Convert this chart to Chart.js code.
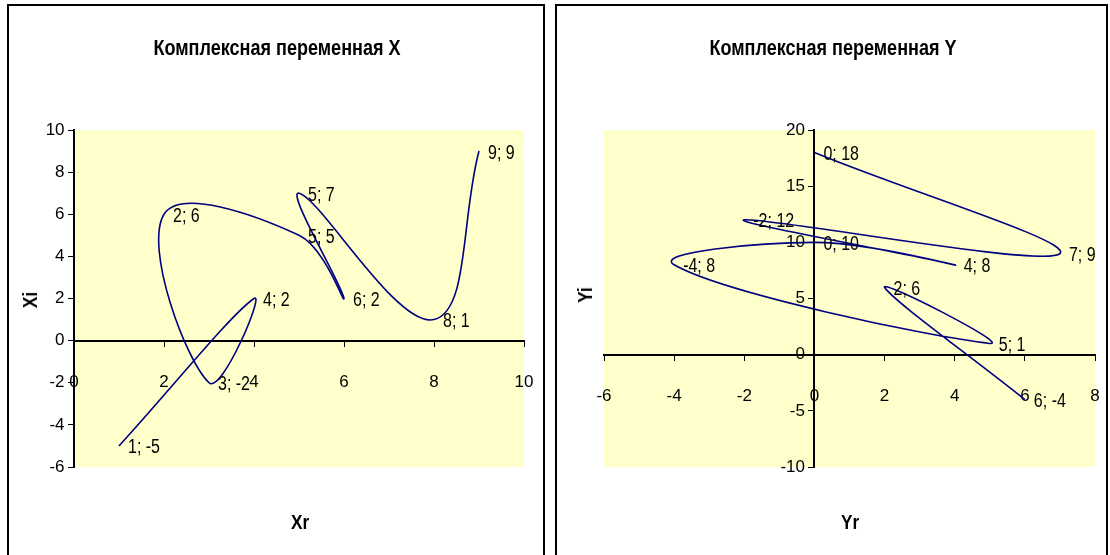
<!DOCTYPE html>
<html>
<head>
<meta charset="utf-8">
<script src="https://cdn.jsdelivr.net/npm/chart.js@4.4.1/dist/chart.umd.min.js"></script>
<style>
  html, body { margin: 0; padding: 0; background: #fff; width: 1110px; height: 555px; overflow: hidden; }
  .box { position: absolute; top: 4px; height: 600px; border: 2px solid #000; box-sizing: border-box; overflow: hidden; }
  .box canvas { position: absolute; left: 0; top: 0; }
  .txt { position: absolute; font-family: "Liberation Sans", Arial, sans-serif; color: #000; white-space: nowrap; }
  .title { font-weight: bold; font-size: 22px; transform: translate(-50%, -50%) scaleX(0.82); }
  .axt { font-weight: bold; font-size: 21px; transform: translate(-50%, -50%) scaleX(0.82); }
  .axt.rot { transform: translate(-50%, -50%) rotate(-90deg) scaleX(0.82); }
</style>
</head>
<body>
<div class="box" id="boxX" style="left:7px; width:538px;">
  <canvas id="chartX" width="555" height="549"></canvas>
  <div class="txt title" style="left:268px; top:42px;">Комплексная переменная X</div>
  <div class="txt axt" style="left:291px; top:516px;">Xr</div>
  <div class="txt axt rot" style="left:21px; top:294px;">Xi</div>
</div>
<div class="box" id="boxY" style="left:555px; width:553px;">
  <canvas id="chartY" width="578" height="549"></canvas>
  <div class="txt title" style="left:276px; top:42px;">Комплексная переменная Y</div>
  <div class="txt axt" style="left:293px; top:516px;">Yr</div>
  <div class="txt axt rot" style="left:28px; top:289px;">Yi</div>
</div>
<script>
// ---- данные: комплексная переменная X ----
const xReal = [1, 4, 3, 2, 5, 6, 5, 8, 9];
const xImag = [-5, 2, -2, 6, 5, 2, 7, 1, 9];
const xTicksX = [0, 2, 4, 6, 8, 10];
const xTicksY = [-6, -4, -2, 0, 2, 4, 6, 8, 10];

// ---- данные: комплексная переменная Y ----
const yReal = [0, 7, -2, 4, 0, -4, 5, 2, 6];
const yImag = [18, 9, 12, 8, 10, 8, 1, 6, -4];
const yTicksX = [-6, -4, -2, 0, 2, 4, 6, 8];
const yTicksY = [-10, -5, 0, 5, 10, 15, 20];

const FONT = '"Liberation Sans", Arial, sans-serif';

// жёлтый фон области построения
const plotBg = {
  id: "plotBg",
  beforeDraw(chart) {
    const { ctx, chartArea: a } = chart;
    ctx.save();
    ctx.fillStyle = "#FFFFCC";
    ctx.fillRect(a.left, a.top, a.right - a.left, a.bottom - a.top);
    ctx.restore();
  },
};

// подписи точек "x; y" (узкий шрифт - сжимаем Arial по горизонтали)
const pointLabels = {
  id: "pointLabels",
  afterDatasetsDraw(chart) {
    const { ctx, scales } = chart;
    chart.data.datasets[0].data.forEach((p) => {
      const px = scales.x.getPixelForValue(p.x);
      const py = scales.y.getPixelForValue(p.y);
      ctx.save();
      ctx.translate(px + 9, py + 2);
      ctx.scale(0.8, 1);
      ctx.font = "20px " + FONT;
      ctx.fillStyle = "#000";
      ctx.textAlign = "left";
      ctx.textBaseline = "middle";
      ctx.fillText(`${p.x}; ${p.y}`, 0, 0);
      ctx.restore();
    });
  },
};

function makeChart(id, re, im, tx, ty, pad) {
  const pts = re.map((v, i) => ({ x: v, y: im[i] }));
  const tickFont = { family: FONT, size: 17 };
  const axisCommon = {
    type: "linear",
    grid: { drawOnChartArea: false, drawTicks: true, tickLength: 5, color: "#000", lineWidth: 1 },
    border: { display: true, color: "#000", width: 2 },
  };
  new Chart(document.getElementById(id), {
    type: "scatter",
    data: {
      datasets: [{
        data: pts,
        showLine: true,
        borderColor: "#000080",
        borderWidth: 1.6,
        pointRadius: 0,
        pointHoverRadius: 0,
        tension: 0.4,
        fill: false,
      }],
    },
    options: {
      responsive: false,
      animation: false,
      events: [],
      layout: { padding: pad },
      plugins: { legend: { display: false }, tooltip: { enabled: false } },
      scales: {
        x: {
          ...axisCommon,
          min: tx[0], max: tx[tx.length - 1],
          position: { y: 0 },
          afterBuildTicks: (s) => { s.ticks = tx.map((v) => ({ value: v })); },
          ticks: { font: tickFont, color: "#000", padding: 26, autoSkip: false, maxRotation: 0 },
        },
        y: {
          ...axisCommon,
          min: ty[0], max: ty[ty.length - 1],
          position: { x: 0 },
          afterBuildTicks: (s) => { s.ticks = ty.map((v) => ({ value: v })); },
          // у оси, поставленной по значению, нет отступа подписи - добавляем пробелы
          ticks: { font: tickFont, color: "#000", autoSkip: false, callback: (v) => v + "  " },
        },
      },
    },
    plugins: [plotBg, pointLabels],
  });
}

// правый отступ с запасом, лишняя ширина холста обрезается рамкой
makeChart("chartX", xReal, xImag, xTicksX, xTicksY, { left: 65, right: 40, top: 124, bottom: 88 });
makeChart("chartY", yReal, yImag, yTicksX, yTicksY, { left: 47, right: 40, top: 124, bottom: 88 });
</script>
</body>
</html>
